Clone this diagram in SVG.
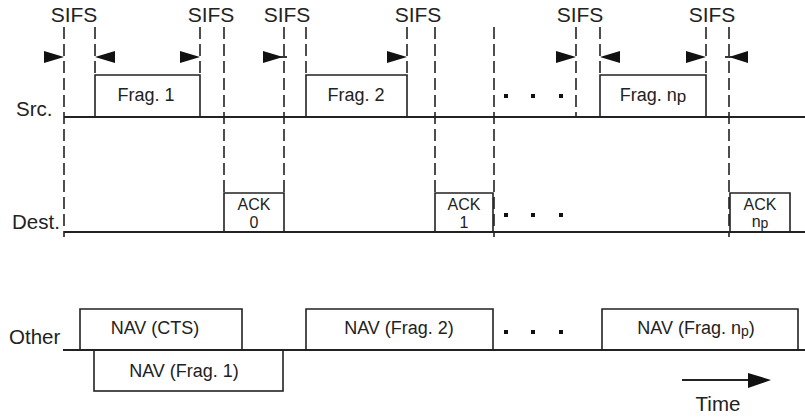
<svg xmlns="http://www.w3.org/2000/svg" width="805" height="417" viewBox="0 0 805 417">
<defs>
<style>
.t{font-family:"Liberation Sans",Arial,sans-serif;fill:#222}
.lbl{font-size:20.5px}
.box{font-size:18px;text-anchor:middle}
.ack{font-size:16px;text-anchor:middle}
.sifs{font-size:21px;text-anchor:middle}
.ln{stroke:#222;stroke-width:1.8;fill:none}
.bx{stroke:#222;stroke-width:1.6;fill:none}
.dash{stroke:#222;stroke-width:1.6;stroke-dasharray:12 5;fill:none}
.arr{fill:#111}
.dot{fill:#111}
</style>
</defs>
<rect width="805" height="417" fill="#fff"/>

<g id="labels">
<text class="t lbl" x="16" y="116">Src.</text>
<text class="t lbl" x="12" y="229">Dest.</text>
<text class="t lbl" x="9" y="344">Other</text>
</g>

<g id="sifs-labels">
<text class="t sifs" x="74" y="22">SIFS</text>
<text class="t sifs" x="211" y="22">SIFS</text>
<text class="t sifs" x="287" y="22">SIFS</text>
<text class="t sifs" x="418" y="22">SIFS</text>
<text class="t sifs" x="580" y="22">SIFS</text>
<text class="t sifs" x="712" y="22">SIFS</text>
</g>

<g id="timelines">
<line class="ln" x1="64" y1="117" x2="805" y2="117"/>
<line class="ln" x1="64" y1="232" x2="805" y2="232"/>
<line class="ln" x1="63" y1="350" x2="805" y2="350"/>
</g>

<g id="frag1">
<polyline class="bx" points="95,117 95,75 200,75 200,117"/>
<text class="t box" x="146" y="101">Frag. 1</text>
</g>
<g id="frag2">
<polyline class="bx" points="306,117 306,75 407,75 407,117"/>
<text class="t box" x="356" y="101">Frag. 2</text>
</g>
<g id="fragnp">
<polyline class="bx" points="600,117 600,75 706,75 706,117"/>
<text class="t box" x="653" y="101">Frag.  n<tspan font-size="17" dy="1">p</tspan></text>
</g>

<g id="ack0">
<polyline class="bx" points="224,232 224,193 284,193 284,232"/>
<text class="t ack" x="254" y="210">ACK</text>
<text class="t ack" x="254" y="228">0</text>
</g>
<g id="ack1">
<polyline class="bx" points="435,232 435,193 493,193 493,232"/>
<text class="t ack" x="464" y="210">ACK</text>
<text class="t ack" x="464" y="228">1</text>
</g>
<g id="acknp">
<polyline class="bx" points="730,232 730,193 790,193 790,232"/>
<text class="t ack" x="760" y="210">ACK</text>
<text class="t ack" x="760" y="227">n<tspan font-size="14" dy="1">p</tspan></text>
</g>

<g id="nav-cts">
<polyline class="bx" points="80,350 80,309 242,309 242,350"/>
<text class="t box" x="155" y="334">NAV (CTS)</text>
</g>
<g id="nav-frag1">
<rect class="bx" x="94" y="350" width="189" height="41"/>
<text class="t box" x="184" y="377">NAV (Frag. 1)</text>
</g>
<g id="nav-frag2">
<polyline class="bx" points="306,350 306,309 493,309 493,350"/>
<text class="t box" x="399" y="334">NAV (Frag. 2)</text>
</g>
<g id="nav-fragnp">
<polyline class="bx" points="602,350 602,309 798,309 798,350"/>
<text class="t box" x="696" y="334">NAV (Frag. n<tspan font-size="14" dy="2">p</tspan><tspan dy="-2">)</tspan></text>
</g>

<g id="ellipses">
<rect class="dot" x="504" y="94" width="4" height="4"/>
<rect class="dot" x="531" y="94" width="4" height="4"/>
<rect class="dot" x="559" y="94" width="4" height="4"/>
<rect class="dot" x="504" y="213" width="4" height="4"/>
<rect class="dot" x="531" y="213" width="4" height="4"/>
<rect class="dot" x="559" y="213" width="4" height="4"/>
<rect class="dot" x="504" y="330" width="4" height="4"/>
<rect class="dot" x="531" y="330" width="4" height="4"/>
<rect class="dot" x="559" y="330" width="4" height="4"/>
</g>

<g id="connectors">
<line class="dash" x1="64" y1="27" x2="64" y2="237"/>
<line class="dash" x1="95" y1="27" x2="95" y2="75"/>
<line class="dash" x1="200" y1="27" x2="200" y2="75"/>
<line class="dash" x1="224" y1="27" x2="224" y2="193"/>
<line class="dash" x1="284" y1="27" x2="284" y2="193"/>
<line class="dash" x1="306" y1="27" x2="306" y2="75"/>
<line class="dash" x1="407" y1="27" x2="407" y2="75"/>
<line class="dash" x1="435" y1="27" x2="435" y2="193"/>
<line class="dash" x1="494" y1="27" x2="494" y2="237"/>
<line class="dash" x1="576" y1="27" x2="576" y2="117"/>
<line class="dash" x1="600" y1="27" x2="600" y2="75"/>
<line class="dash" x1="706" y1="27" x2="706" y2="75"/>
<line class="dash" x1="729" y1="27" x2="729" y2="237"/>

<polygon class="arr" points="44,51 64,57 44,63"/>
<polygon class="arr" points="115,51 95,57 115,63"/>
<polygon class="arr" points="180,51 200,57 180,63"/>
<polygon class="arr" points="263,51 283,57 263,63"/>
<line class="ln" x1="280" y1="57" x2="287" y2="57" stroke-width="1"/>
<polygon class="arr" points="387,51 407,57 387,63"/>
<polygon class="arr" points="556,51 576,57 556,63"/>
<polygon class="arr" points="620,51 600,57 620,63"/>
<polygon class="arr" points="686,51 706,57 686,63"/>
<polygon class="arr" points="748,51 729,57 748,63"/>
<line class="ln" x1="725" y1="57" x2="732" y2="57" stroke-width="1"/>

<line class="ln" x1="682" y1="380" x2="750" y2="380"/>
<polygon class="arr" points="748,373 771,380 748,388"/>
</g>

<g id="time-label">
<text class="t lbl" x="718" y="411" text-anchor="middle">Time</text>
</g>
</svg>
